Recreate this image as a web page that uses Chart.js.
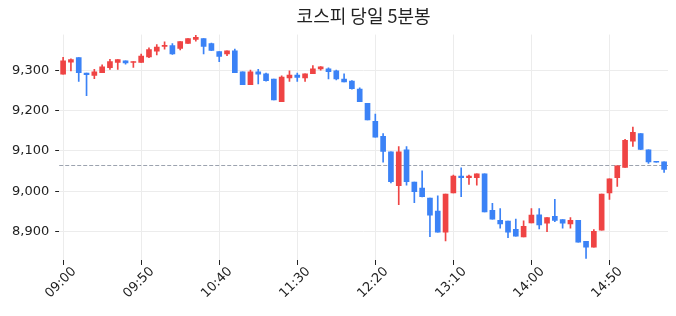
<!DOCTYPE html>
<html>
<head>
<meta charset="utf-8">
<script src="https://cdn.jsdelivr.net/npm/chart.js@4"></script>
<style>
  html, body { margin: 0; padding: 0; background: #fff; }
  #wrap { width: 676px; height: 316px; }
</style>
</head>
<body>
<div id="wrap"><canvas id="chart" width="676" height="316"></canvas></div>
<script>
// 5 minute bars from 09:00
const times = [];
for (let m = 9 * 60; times.length < 78; m += 5) {
  times.push(String(Math.floor(m / 60)).padStart(2, "0") + ":" + String(m % 60).padStart(2, "0"));
}

const opens = [9290, 9320, 9331, 9293, 9287, 9294, 9306, 9319, 9323, 9319,
  9319, 9333, 9347, 9359, 9361, 9354, 9366, 9376, 9378, 9366,
  9346, 9340, 9348, 9296, 9264, 9296, 9291, 9278, 9222, 9281,
  9288, 9281, 9291, 9303, 9303, 9298, 9278, 9273, 9253, 9218,
  9173, 9136, 9098, 9014, 9103, 9023, 9008, 8983, 8951, 8899,
  8996, 9038, 9034, 9034, 9043, 8953, 8928, 8926, 8906, 8887,
  8922, 8942, 8921, 8938, 8930, 8919, 8928, 8876, 8862, 8904,
  8996, 9034, 9059, 9124, 9143, 9103, 9073, 9073];
const highs = [9332, 9328, 9331, 9293, 9302, 9313, 9327, 9326, 9323, 9321,
  9340, 9355, 9363, 9370, 9366, 9371, 9378, 9386, 9378, 9367,
  9346, 9348, 9352, 9296, 9300, 9302, 9293, 9278, 9286, 9298,
  9293, 9291, 9311, 9309, 9306, 9300, 9291, 9274, 9256, 9218,
  9191, 9143, 9098, 9111, 9111, 9023, 9051, 8983, 8989, 8993,
  9040, 9058, 9040, 9043, 9043, 8970, 8957, 8926, 8931, 8927,
  8957, 8957, 8935, 8980, 8930, 8935, 8928, 8876, 8905, 8993,
  9031, 9063, 9129, 9159, 9143, 9103, 9073, 9073];
const lows = [9290, 9298, 9272, 9237, 9279, 9294, 9302, 9302, 9315, 9307,
  9319, 9331, 9338, 9352, 9339, 9350, 9366, 9372, 9340, 9348,
  9321, 9336, 9294, 9264, 9264, 9266, 9273, 9226, 9222, 9272,
  9272, 9272, 9291, 9300, 9278, 9276, 9271, 9253, 9222, 9177,
  9134, 9072, 9021, 8967, 9015, 8972, 8986, 8888, 8899, 8877,
  8996, 8987, 9017, 9015, 8949, 8931, 8909, 8885, 8889, 8887,
  8922, 8907, 8900, 8925, 8909, 8909, 8874, 8834, 8862, 8904,
  8980, 9012, 9059, 9111, 9103, 9069, 9072, 9047];
const closes = [9323, 9326, 9294, 9289, 9296, 9308, 9321, 9326, 9318, 9320,
  9335, 9351, 9357, 9361, 9340, 9371, 9378, 9381, 9359, 9349,
  9334, 9348, 9294, 9264, 9296, 9290, 9274, 9226, 9283, 9288,
  9282, 9291, 9303, 9308, 9296, 9278, 9271, 9254, 9222, 9177,
  9134, 9099, 9024, 9098, 9024, 8999, 8987, 8941, 8899, 8993,
  9038, 9034, 9038, 9043, 8949, 8931, 8919, 8899, 8889, 8913,
  8941, 8917, 8935, 8928, 8921, 8928, 8874, 8862, 8901, 8993,
  9031, 9063, 9126, 9146, 9104, 9073, 9072, 9054];
const prevClose = 9064;
const yTicks = [8900, 9000, 9100, 9200, 9300];

const UP = "#ef4444";
const DOWN = "#3b82f6";
const colors = closes.map((c, i) => c >= opens[i] ? UP : DOWN);

const refLine = {
  id: "refLine",
  beforeDatasetsDraw(chart) {
    const { ctx, chartArea, scales } = chart;
    const y = Math.round(scales.y.getPixelForValue(prevClose)) + 0.5;
    ctx.save();
    ctx.strokeStyle = "#9ca3af";
    ctx.lineWidth = 1;
    ctx.setLineDash([4, 2]);
    ctx.beginPath();
    ctx.moveTo(chartArea.left, y);
    ctx.lineTo(chartArea.right, y);
    ctx.stroke();
    ctx.restore();
  }
};

new Chart(document.getElementById("chart"), {
  type: "bar",
  data: {
    labels: times,
    datasets: [
      {
        label: "wick",
        data: lows.map((l, i) => [l, highs[i]]),
        backgroundColor: colors,
        barThickness: 1,
        grouped: false,
        order: 2
      },
      {
        label: "body",
        data: opens.map((o, i) => [o, closes[i]]),
        backgroundColor: colors,
        barThickness: 5,
        minBarLength: 1,
        grouped: false,
        order: 1
      }
    ]
  },
  options: {
    responsive: false,
    animation: false,
    layout: { padding: { left: 6, right: 8, top: 2, bottom: 15.5 } },
    plugins: {
      legend: { display: false },
      tooltip: { enabled: false },
      title: {
        display: true,
        text: "코스피 당일 5분봉",
        fullSize: false,
        color: "#222",
        font: { family: "'Noto Sans CJK KR', 'DejaVu Sans'", size: 18, weight: "normal" },
        padding: { top: 3, bottom: 8 }
      }
    },
    scales: {
      x: {
        offset: true,
        grid: { offset: false, color: "#ececec", tickColor: "#222", tickLength: 5 },
        border: { display: false },
        afterBuildTicks: (axis) => {
          axis.ticks = axis.ticks.filter(t => t.value % 10 === 0);
        },
        ticks: {
          autoSkip: false,
          minRotation: 45,
          maxRotation: 45,
          labelOffset: 11,
          color: "#222",
          padding: -1,
          font: { family: "'DejaVu Sans'", size: 13 }
        }
      },
      y: {
        min: 8830,
        max: 9388,
        grid: { color: "#ececec", tickColor: "#222", tickLength: 4 },
        border: { display: false },
        afterBuildTicks: (axis) => {
          axis.ticks = yTicks.map(v => ({ value: v }));
        },
        ticks: {
          color: "#222",
          padding: 6,
          font: { family: "'DejaVu Sans'", size: 13 }
        }
      }
    }
  },
  plugins: [refLine]
});
</script>
</body>
</html>
